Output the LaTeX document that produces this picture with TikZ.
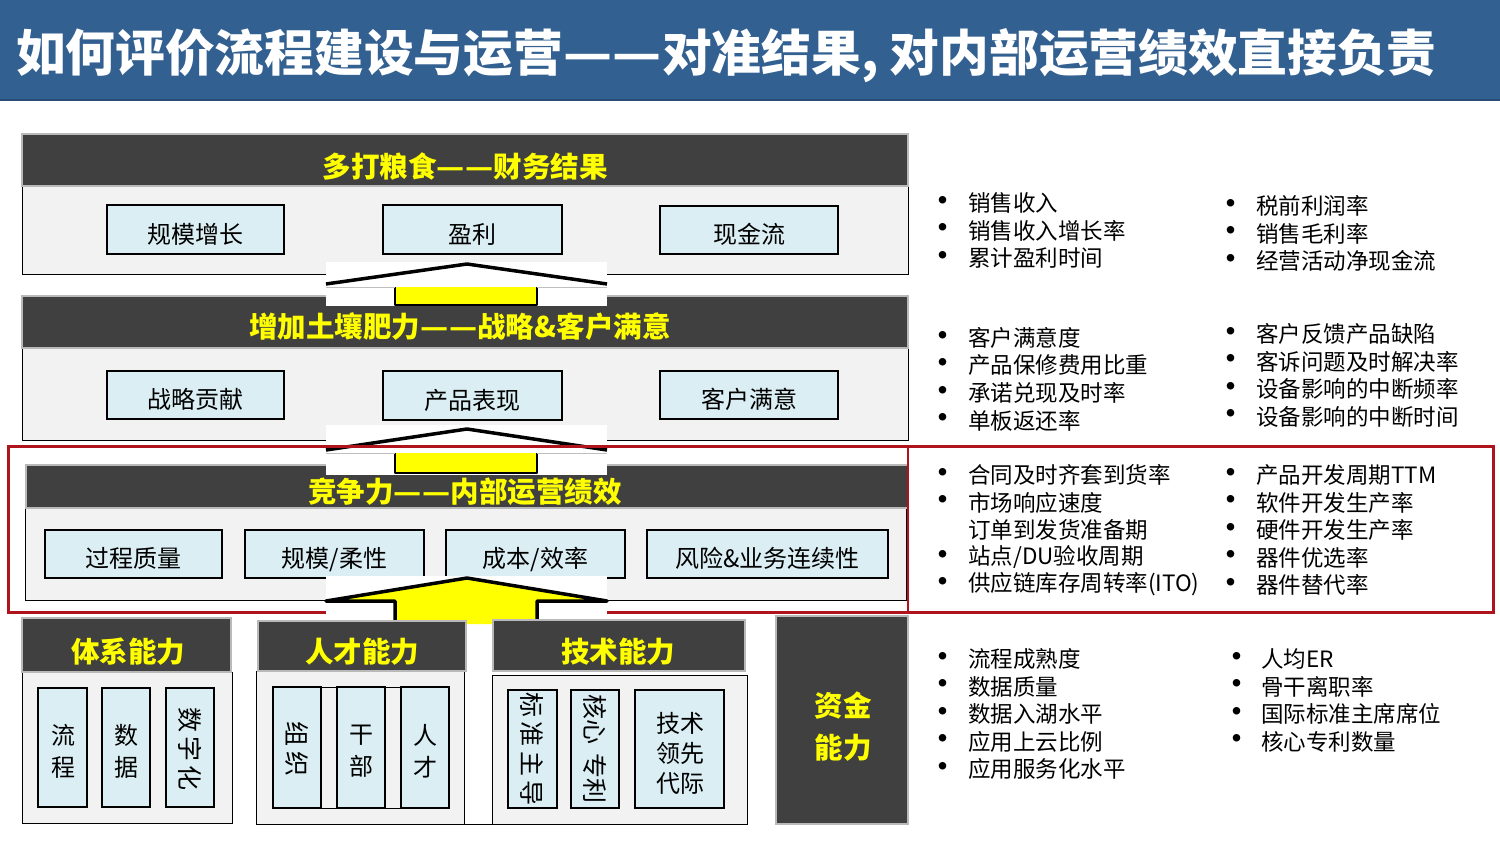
\documentclass[tikz,border=0pt]{standalone}
\usepackage{fontspec}
\usepackage{graphicx}
\setmainfont{Noto Sans CJK SC}
\definecolor{titleblue}{RGB}{50,96,145}
\definecolor{titleline}{RGB}{40,76,115}
\definecolor{hdrgray}{RGB}{64,64,64}
\definecolor{hdrborder}{RGB}{185,185,185}
\definecolor{bodygray}{RGB}{242,242,242}
\definecolor{iboxblue}{RGB}{218,238,243}
\definecolor{hdryellow}{RGB}{255,255,0}
\definecolor{redbox}{RGB}{175,20,30}
\newcommand\dd{\makebox[1em][c]{\scalebox{1.08}[1]{—}}}
\newcommand\bx[7][]{\node[ibox, #1, minimum width={#5-#3}, minimum height={#6-#4}] (#2) at ({(#3+#5)/2},{(#4+#6)/2}) {#7};}
\newcommand\mylist[5]{\foreach \txt [count=\i from 0] in {#5} {\node[bul] (#1b\i) at (#2,{#4+27.5*\i}) {•}; \node[li] (#1t\i) at (#3,{#4+27.5*\i}) {\txt};}}
\begin{document}
\begin{tikzpicture}[x=1pt,y=-1pt,
 hdr/.style={fill=hdrgray, draw=hdrborder, line width=2.5pt},
 bodybox/.style={fill=bodygray, draw=black, line width=1pt},
 ibox/.style={fill=iboxblue, draw=black, line width=1.2pt, inner sep=0, font=\fontsize{24}{32}\selectfont, align=center},
 lt/.style={text height=30pt, text depth=3pt},
 vtxt/.style={inner sep=0, font=\fontsize{24}{32}\selectfont, align=center},
 htxt/.style={text=hdryellow, font=\bfseries\fontsize{28.5}{42}\selectfont, inner sep=0, align=center},
 li/.style={anchor=west, inner sep=0, font=\fontsize{22.5}{27}\selectfont},
 bul/.style={inner sep=0, font=\bfseries\fontsize{27}{27}\selectfont},
 roof/.style={draw=black, line width=3.5pt, line join=round},
 shaft/.style={draw=black, line width=2.5pt, line join=round},
 rtxt/.style={rotate=-90, inner sep=0, font=\fontsize{25}{30}\selectfont}
]
\useasboundingbox (0,0) rectangle (1500,844);
\fill[white] (0,0) rectangle (1500,844);
% title
\fill[titleblue] (0,0) rectangle (1500,101);
\draw[titleline, line width=2pt] (0,100) -- (1500,100);
\node[anchor=west, text=white, inner sep=0, font=\bfseries\fontsize{49.7}{55}\selectfont] (title) at (16,56) {如何评价流程建设与运营\dd\dd 对准结果, 对内部运营绩效直接负责};

% layer 1
\draw[bodybox] (22,186) rectangle (908,274);
\draw[hdr] (22,134) rectangle (908,186);
\node[htxt] (h1) at (465,167) {多打粮食\dd\dd 财务结果};
\bx[lt]{b11}{107}{205}{284}{254}{规模增长}
\bx[lt]{b12}{383}{205}{562}{254}{盈利}
\bx[lt]{b13}{660}{206}{838}{254}{现金流}

% layer 2
\draw[bodybox] (22,348) rectangle (908,440);
\draw[hdr] (22,296) rectangle (908,348);
\node[htxt] (h2) at (460,327) {增加土壤肥力\dd\dd 战略\&客户满意};
\bx[lt]{b21}{107}{371}{284}{419}{战略贡献}
\bx[lt]{b22}{383}{371}{562}{420}{产品表现}
\bx[lt]{b23}{660}{371}{838}{419}{客户满意}

% arrow 1
\fill[white] (326,262) rectangle (607,306);
\fill[hdryellow] (395,287) rectangle (537,305);
\draw[shaft] (395,287) -- (395,305) -- (537,305) -- (537,287);
\draw[gray!50, line width=0.8pt] (326,287) -- (395,287) (537,287) -- (607,287);
\draw[roof] (326,284) -- (467,264) -- (607,284);

% layer 3
\draw[bodybox] (25,508) rectangle (906,600);
\draw[hdr] (26,465) rectangle (908,508);
\node[htxt] (h3) at (465,492) {竞争力\dd\dd 内部运营绩效};
\bx[lt]{b31}{45}{530}{222}{578}{过程质量}
\bx[lt]{b32}{245}{530}{424}{578}{规模/柔性}
\bx[lt]{b33}{446}{530}{625}{578}{成本/效率}
\bx[lt]{b34}{647}{530}{888}{578}{风险\&业务连续性}

% arrow 2
\fill[white] (326,425) rectangle (607,475);
\fill[hdryellow] (395,453) rectangle (537,473);
\draw[shaft] (395,453) -- (395,473) -- (537,473) -- (537,453);
\draw[gray!50, line width=0.8pt] (326,453) -- (395,453) (537,453) -- (607,453);
\draw[roof] (326,450) -- (467,429) -- (607,450);

% red frame
\draw[redbox, line width=3pt] (8,446) rectangle (1493,612);
\draw[redbox, line width=2pt] (908,446) -- (908,612);

% arrow 3
\fill[white] (326,576) rectangle (607,624);
\fill[hdryellow] (326,601) -- (467,578) -- (607,601) -- (537,601) -- (537,624) -- (395,624) -- (395,601) -- cycle;
\draw[roof] (395,624) -- (395,601) -- (326,601) -- (467,578) -- (607,601) -- (537,601) -- (537,624);

% bottom row: 体系能力
\draw[bodybox] (22,672) rectangle (232,823);
\draw[hdr] (22,618) rectangle (231,672);
\node[htxt] (h4) at (128,652) {体系能力};
\bx{c1}{38}{688}{87}{807}{}
\node[vtxt] (c1t) at (63,751) {流\\程};
\bx{c2}{102}{688}{150}{807}{}
\node[vtxt] (c2t) at (126,751) {数\\据};
\bx{c3}{166}{688}{214}{807}{}
\node[rtxt] (c3t) at (190,749) {数\,字\,化};

% 人才能力
\draw[bodybox] (256,671) rectangle (464,824);
\draw[black, line width=1pt] (464,824) -- (492,824);
\draw[hdr] (258,621) rectangle (466,671);
\node[htxt] (h5) at (362,652) {人才能力};
\draw[bodybox] (273,687) rectangle (449,808);
\bx{d1}{273}{687}{321}{808}{}
\node[rtxt] (d1t) at (297,749) {组\,织};
\bx{d2}{337}{687}{385}{808}{}
\node[vtxt] (d2t) at (361,751) {干\\部};
\bx{d3}{401}{687}{449}{808}{}
\node[vtxt] (d3t) at (425,751) {人\\才};

% 技术能力
\draw[bodybox] (492,675) rectangle (747,824);
\draw[hdr] (493,620) rectangle (745,671);
\node[htxt] (h6) at (618,652) {技术能力};
\bx{e1}{508}{690}{557}{808}{}
\node[rtxt] (e1t) at (532,749) {标\,准\,主\,导};
\bx{e2}{571}{690}{619}{808}{}
\node[rtxt] (e2t) at (595,749) {核心\,\,专利};
\bx{e3}{635}{690}{724}{808}{}
\node[vtxt, font=\fontsize{24}{30}\selectfont] (e3t) at (680,753) {技术\\领先\\代际};

% 资金能力
\draw[hdr] (776,616) rectangle (908,824);
\node[htxt] (h7) at (843,727) {资金\\能力};

% metric lists
\mylist{ga}{943}{968}{203}{销售收入,销售收入增长率,累计盈利时间}
\mylist{gb}{1231}{1256}{206}{税前利润率,销售毛利率,经营活动净现金流}
\mylist{gc}{943}{968}{338}{客户满意度,产品保修费用比重,承诺兑现及时率,单板返还率}
\mylist{gd}{1231}{1256}{334}{客户反馈产品缺陷,客诉问题及时解决率,设备影响的中断频率,设备影响的中断时间}
\mylist{ge}{943}{968}{475}{合同及时齐套到货率,市场响应速度}
\node[li] (ex) at (968,530) {订单到发货准备期};
\mylist{gf}{943}{968}{557}{站点/DU验收周期,供应链库存周转率(ITO)}
\mylist{gg}{1231}{1256}{475}{产品开发周期TTM,软件开发生产率,硬件开发生产率,器件优选率,器件替代率}
\mylist{gh}{943}{968}{659}{流程成熟度,数据质量,数据入湖水平,应用上云比例,应用服务化水平}
\mylist{gi}{1237}{1261}{659}{人均ER,骨干离职率,国际标准主席席位,核心专利数量}
\end{tikzpicture}
\end{document}
